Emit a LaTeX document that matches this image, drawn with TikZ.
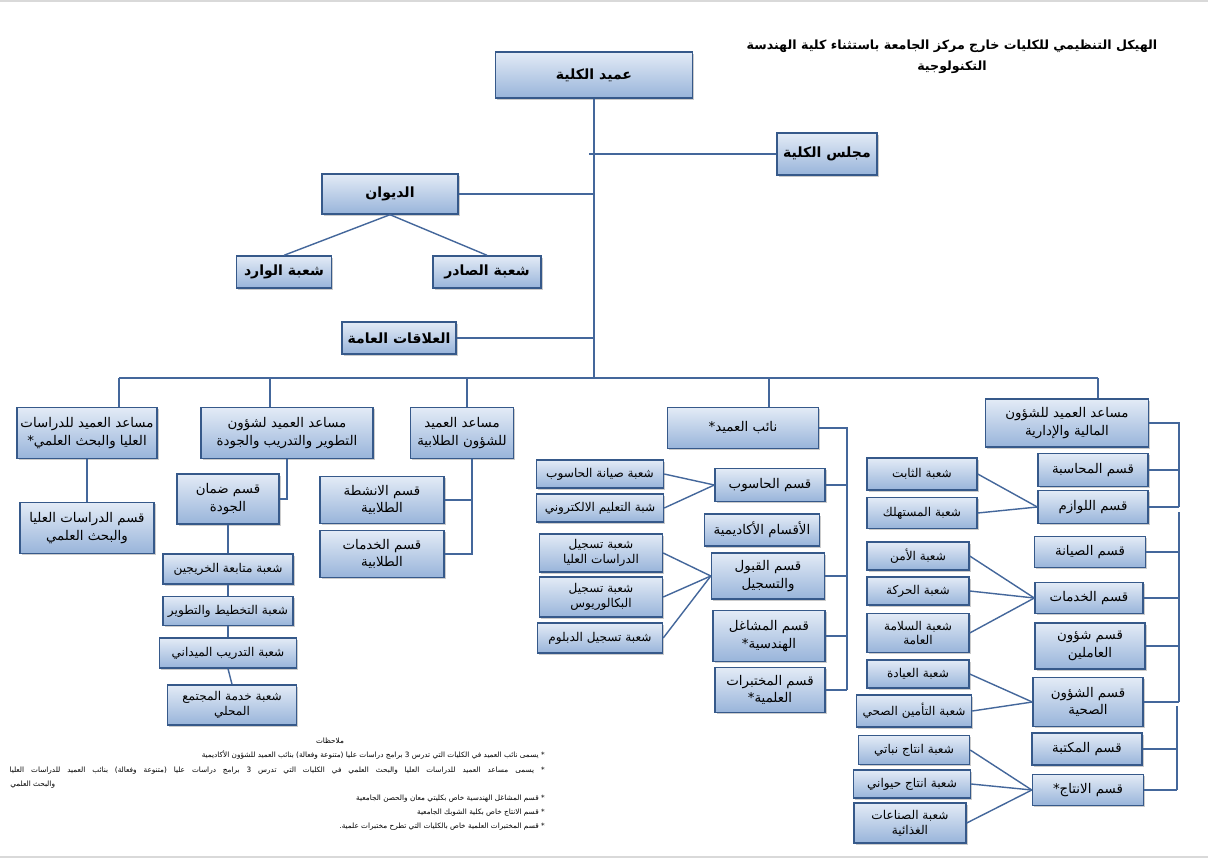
\documentclass[tikz,border=0pt]{standalone}
\usepackage{fontspec}
\newfontfamily\arabicfont[Script=Arabic]{DejaVu Sans}
\TeXXeTstate=1
\usepackage{tikz}
\usetikzlibrary{shadows,calc}

\definecolor{boxtop}{HTML}{E3EBF6}
\definecolor{boxbot}{HTML}{98B4DA}
\definecolor{boxline}{HTML}{36598A}
\definecolor{linecol}{HTML}{44679B}
\newcommand{\artxt}[1]{\beginR #1\endR}

\begin{document}
\begin{tikzpicture}[
    x=0.025cm, y=-0.025cm,
    box/.style={draw=boxline, line width=1pt,
                top color=boxtop, bottom color=boxbot,
                drop shadow={shadow xshift=1.4pt, shadow yshift=-1.4pt, opacity=0.4},
                align=center, inner sep=1pt,
                font=\arabicfont\fontsize{9.5}{12.5}\selectfont},
    headbox/.style={box, font=\arabicfont\bfseries\fontsize{10}{12}\selectfont},
    subbox/.style={box, font=\arabicfont\fontsize{8.6}{10.6}\selectfont},
    sz/.style 2 args={minimum width=#1*0.025cm, minimum height=#2*0.025cm},
    conn/.style={draw=linecol, line width=1pt},
    notetxt/.style={font=\arabicfont\fontsize{5.2}{7}\selectfont, inner sep=0pt},
  ]
    \fill[white] (0,0) rectangle (1208,860);
    \useasboundingbox (0,0) rectangle (1208,860);
    \draw[black!15, line width=0.8pt] (0,1) -- (1208,1);
    \draw[black!15, line width=0.8pt] (0,857) -- (1208,857);

    % ---- Title ----
    \node[font=\arabicfont\bfseries\fontsize{9}{15}\selectfont, align=center] (title) at (952,57)
      {\artxt{الهيكل التنظيمي للكليات خارج مركز الجامعة باستثناء كلية الهندسة}\\\artxt{التكنولوجية}};

    % ---- Top level ----
    \node[headbox, sz={197}{46}] (dean)     at (594,75)  {\artxt{عميد الكلية}};
    \node[headbox, sz={100}{42}] (council)  at (827,154) {\artxt{مجلس الكلية}};
    \node[headbox, sz={136}{40}] (diwan)    at (390,194) {\artxt{الديوان}};
    \node[headbox, sz={95}{32}]  (incoming) at (284,272) {\artxt{شعبة الوارد}};
    \node[headbox, sz={108}{32}] (outgoing) at (487,272) {\artxt{شعبة الصادر}};
    \node[headbox, sz={114}{32}] (pr)       at (399,338) {\artxt{العلاقات العامة}};

    % ---- Assistants row ----
    \node[box, sz={140}{51}] (asstGrad) at (87,433)   {\artxt{مساعد العميد للدراسات}\\\artxt{العليا والبحث العلمي*}};
    \node[box, sz={172}{51}] (asstDev)  at (287,433)  {\artxt{مساعد العميد لشؤون}\\\artxt{التطوير والتدريب والجودة}};
    \node[box, sz={103}{51}] (asstStud) at (462,433)  {\artxt{مساعد العميد}\\\artxt{للشؤون الطلابية}};
    \node[box, sz={151}{41}] (deputy)   at (743,428)  {\artxt{نائب العميد*}};
    \node[box, sz={163}{48}] (asstFin)  at (1067,423) {\artxt{مساعد العميد للشؤون}\\\artxt{المالية والإدارية}};

    % ---- Left columns ----
    \node[box, sz={134}{51}]    (gradDept)   at (87,528)  {\artxt{قسم الدراسات العليا}\\\artxt{والبحث العلمي}};
    \node[box, sz={102}{50}]    (quality)    at (228,499) {\artxt{قسم ضمان}\\\artxt{الجودة}};
    \node[subbox, sz={130}{30}] (grads)      at (228,569) {\artxt{شعبة متابعة الخريجين}};
    \node[subbox, sz={130}{29}] (planning)   at (228,611) {\artxt{شعبة التخطيط والتطوير}};
    \node[subbox, sz={137}{30}] (field)      at (228,653) {\artxt{شعبة التدريب الميداني}};
    \node[subbox, sz={129}{40}] (community)  at (232,705) {\artxt{شعبة خدمة المجتمع}\\\artxt{المحلي}};
    \node[box, sz={124}{47}]    (activities) at (382,500) {\artxt{قسم الانشطة}\\\artxt{الطلابية}};
    \node[box, sz={124}{47}]    (studServ)   at (382,554) {\artxt{قسم الخدمات}\\\artxt{الطلابية}};

    % ---- Deputy column ----
    \node[box, sz={110}{33}]    (compDept)  at (770,485) {\artxt{قسم الحاسوب}};
    \node[box, sz={115}{32}]    (academic)  at (762,530) {\artxt{الأقسام الأكاديمية}};
    \node[box, sz={113}{46}]    (admission) at (768,576) {\artxt{قسم القبول}\\\artxt{والتسجيل}};
    \node[box, sz={112}{51}]    (workshops) at (769,636) {\artxt{قسم المشاغل}\\\artxt{الهندسية*}};
    \node[box, sz={110}{45}]    (labs)      at (770,690) {\artxt{قسم المختبرات}\\\artxt{العلمية*}};
    \node[subbox, sz={127}{28}] (compMaint) at (600,474) {\artxt{شعبة صيانة الحاسوب}};
    \node[subbox, sz={127}{28}] (eLearn)    at (600,508) {\artxt{شبة التعليم الالكتروني}};
    \node[subbox, sz={123}{38}] (regGrad)   at (601,553) {\artxt{شعبة تسجيل}\\\artxt{الدراسات العليا}};
    \node[subbox, sz={123}{40}] (regBach)   at (601,597) {\artxt{شعبة تسجيل}\\\artxt{البكالوريوس}};
    \node[subbox, sz={125}{30}] (regDip)    at (600,638) {\artxt{شعبة تسجيل الدبلوم}};

    % ---- Finance column ----
    \node[box, sz={110}{33}] (accounting)  at (1093,470) {\artxt{قسم المحاسبة}};
    \node[box, sz={110}{33}] (supplies)    at (1093,507) {\artxt{قسم اللوازم}};
    \node[box, sz={111}{31}] (maintenance) at (1090,552) {\artxt{قسم الصيانة}};
    \node[box, sz={108}{31}] (services)    at (1089,598) {\artxt{قسم الخدمات}};
    \node[box, sz={110}{46}] (staff)       at (1090,646) {\artxt{قسم شؤون}\\\artxt{العاملين}};
    \node[box, sz={110}{49}] (health)      at (1088,702) {\artxt{قسم الشؤون}\\\artxt{الصحية}};
    \node[box, sz={110}{32}] (library)     at (1087,749) {\artxt{قسم المكتبة}};
    \node[box, sz={111}{31}] (production)  at (1088,790) {\artxt{قسم الانتاج*}};

    \node[subbox, sz={110}{32}] (fixedSec)   at (922,474) {\artxt{شعبة الثابت}};
    \node[subbox, sz={110}{31}] (consumable) at (922,513) {\artxt{شعبة المستهلك}};
    \node[subbox, sz={102}{28}] (security)   at (918,556) {\artxt{شعبة الأمن}};
    \node[subbox, sz={102}{28}] (transport)  at (918,591) {\artxt{شعبة الحركة}};
    \node[subbox, sz={102}{39}] (safety)     at (918,633) {\artxt{شعبة السلامة}\\\artxt{العامة}};
    \node[subbox, sz={102}{28}] (clinic)     at (918,674) {\artxt{شعبة العيادة}};
    \node[subbox, sz={115}{32}] (insurance)  at (914,711) {\artxt{شعبة التأمين الصحي}};
    \node[subbox, sz={111}{29}] (plant)      at (914,750) {\artxt{شعبة انتاج نباتي}};
    \node[subbox, sz={117}{28}] (animal)     at (912,784) {\artxt{شعبة انتاج حيواني}};
    \node[subbox, sz={112}{40}] (food)       at (910,823) {\artxt{شعبة الصناعات}\\\artxt{الغذائية}};

    % ---- Notes ----
    \node[notetxt] (notesHead) at (330,741) {\artxt{ملاحظات}};
    \node[notetxt, anchor=east] (note1) at (545,755) {\artxt{* يسمى نائب العميد في الكليات التي تدرس 3 برامج دراسات عليا (متنوعة وفعالة) بنائب العميد للشؤون الأكاديمية}};
    \node[notetxt, anchor=east] (note2) at (545,771) {\hbox to 13.375cm{\artxt{* يسمى مساعد العميد للدراسات العليا والبحث العلمي في الكليات التي تدرس 3 برامج دراسات عليا (متنوعة وفعالة) بنائب العميد للدراسات العليا}}};
    \node[notetxt, anchor=west] (note2b) at (10,785) {\artxt{والبحث العلمي}};
    \node[notetxt, anchor=east] (note3) at (545,799) {\artxt{* قسم المشاغل الهندسية خاص بكليتي معان والحصن الجامعية}};
    \node[notetxt, anchor=east] (note4) at (545,813) {\artxt{* قسم الانتاج خاص بكلية الشوبك الجامعية}};
    \node[notetxt, anchor=east] (note5) at (545,827) {\artxt{* قسم المختبرات العلمية خاص بالكليات التي تطرح مختبرات علمية.}};

    % ---- Top connectors ----
    \coordinate (busL) at (119,378);
    \coordinate (busR) at (1098,378);
    \coordinate (tick) at (589,154);
    \draw[conn] (dean.south) -- (dean.south |- busL);
    \draw[conn] (tick) -- (council.west);
    \draw[conn] (diwan.east) -- (diwan.east -| dean.south);
    \draw[conn] (pr.east) -- (pr.east -| dean.south);
    \draw[conn] (diwan.south) -- (incoming.north);
    \draw[conn] (diwan.south) -- (outgoing.north);

    % ---- Main bus and drops ----
    \coordinate (busB) at (270,378);
    \coordinate (busC) at (467,378);
    \coordinate (busD) at (769,378);
    \draw[conn] (busL) -- (busR);
    \draw[conn] (busL) -- (busL |- asstGrad.north);
    \draw[conn] (busB) -- (busB |- asstDev.north);
    \draw[conn] (busC) -- (busC |- asstStud.north);
    \draw[conn] (busD) -- (busD |- deputy.north);
    \draw[conn] (busR) -- (busR |- asstFin.north);

    % ---- Left branches ----
    \draw[conn] (asstGrad.south) -- (gradDept.north);
    \draw[conn] (asstDev.south) |- (quality.east);
    \draw[conn] (quality.south) -- (grads.north);
    \draw[conn] (grads.south) -- (planning.north);
    \draw[conn] (planning.south) -- (field.north);
    \draw[conn] (field.south) -- (community.north);
    \coordinate (studV) at ($(asstStud.south)+(10,0)$);
    \draw[conn] (studV) |- (activities.east);
    \draw[conn] (studV) |- (studServ.east);

    % ---- Deputy branch ----
    \coordinate (depTop) at (847,428);
    \draw[conn] (deputy.east) -- (depTop) -- (depTop |- labs.east);
    \foreach \n in {compDept, admission, workshops, labs}
      \draw[conn] (\n.east) -- (\n.east -| depTop);
    \foreach \n in {compMaint, eLearn}
      \draw[conn] (\n.east) -- (compDept.west);
    \foreach \n in {regGrad, regBach, regDip}
      \draw[conn] (\n.east) -- (admission.west);

    % ---- Finance branch ----
    \coordinate (finTop) at (1179,423);
    \coordinate (midTop) at (1179,512);
    \coordinate (lowTop) at (1177,706);
    \draw[conn] (asstFin.east) -- (finTop) -- (finTop |- supplies.east);
    \foreach \n in {accounting, supplies}
      \draw[conn] (\n.east) -- (\n.east -| finTop);
    \draw[conn] (midTop) -- (midTop |- health.east);
    \foreach \n in {maintenance, services, staff, health}
      \draw[conn] (\n.east) -- (\n.east -| midTop);
    \draw[conn] (lowTop) -- (lowTop |- production.east);
    \foreach \n in {library, production}
      \draw[conn] (\n.east) -- (\n.east -| lowTop);
    \foreach \n in {fixedSec, consumable}
      \draw[conn] (\n.east) -- (supplies.west);
    \foreach \n in {security, transport, safety}
      \draw[conn] (\n.east) -- (services.west);
    \foreach \n in {clinic, insurance}
      \draw[conn] (\n.east) -- (health.west);
    \foreach \n in {plant, animal, food}
      \draw[conn] (\n.east) -- (production.west);
\end{tikzpicture}
\end{document}
